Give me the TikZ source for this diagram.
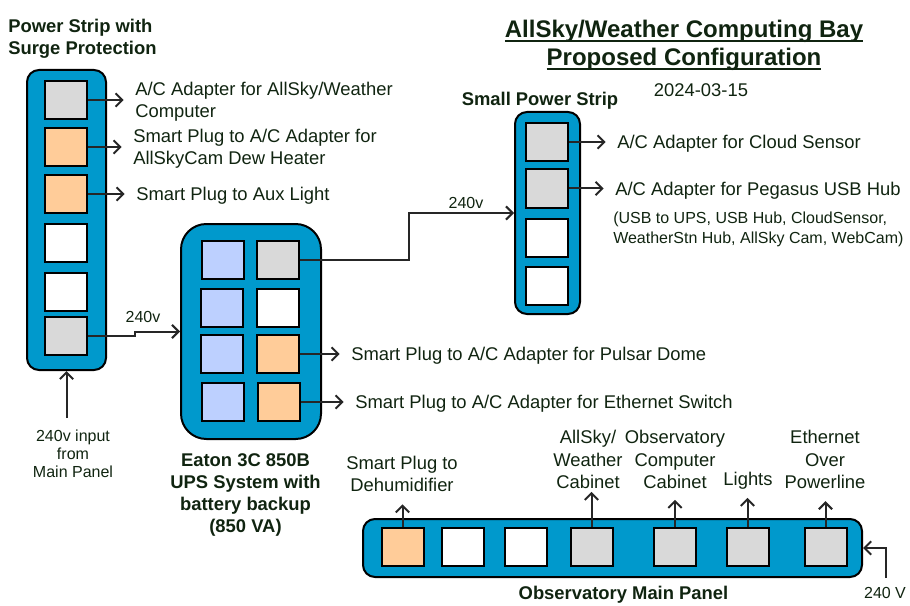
\documentclass[tikz,border=0pt]{standalone}
\usepackage{fontspec}
\setmainfont{Liberation Sans}
\usetikzlibrary{arrows.meta}

\definecolor{stripblue}{HTML}{0099CC}
\definecolor{plugblue}{HTML}{BDD0FF}
\definecolor{plugorange}{HTML}{FFCC99}
\definecolor{pluggrey}{HTML}{D9D9D9}
\definecolor{inkgreen}{HTML}{102410}
\definecolor{wire}{HTML}{262626}

% thick underline for the title lines
\newcommand{\titleline}[1]{\setbox0\hbox{#1}\rlap{\rule[-3.4pt]{\wd0}{1.5pt}}\box0}

\begin{document}
\begin{tikzpicture}[x=0.75pt, y=-0.75pt,
    strip/.style={draw=black, line width=1.5pt, fill=stripblue, rounded corners=9pt},
    plug/.style={draw=black, line width=1.5pt, minimum width=31.5pt, minimum height=28.5pt, inner sep=0pt},
    lbl/.style={text=inkgreen, font=\fontsize{13.8}{17}\selectfont, inner sep=0pt},
    hdr/.style={text=inkgreen, font=\fontsize{13.8}{16.5}\selectfont\bfseries, inner sep=0pt},
    note/.style={text=inkgreen, font=\fontsize{12}{13.5}\selectfont, inner sep=0pt},
    feed/.style={draw=wire, line width=1.5pt, -{Straight Barb[length=5pt, width=10pt]}},
    tolabel/.style={feed, shorten >=8.5pt},
    uplabel/.style={feed, shorten >=6pt}]
    \useasboundingbox (0,0) rectangle (910,606);

    % title
    \node[text=inkgreen, font=\fontsize{18}{21}\selectfont\bfseries, align=center, inner sep=0pt] (title) at (684,45)
        {\titleline{AllSky/Weather Computing Bay}\\\titleline{Proposed Configuration}};
    \node[lbl] (date) at (701,90) {2024-03-15};

    % power strip with surge protection
    \node[strip, minimum width=59.25pt, minimum height=225pt] (ps) at (66.5,220) {};
    \node[plug, fill=pluggrey] (ps1) at (66,100) {};
    \node[plug, fill=plugorange] (ps2) at (66,147) {};
    \node[plug, fill=plugorange] (ps3) at (66,194) {};
    \node[plug, fill=white] (ps4) at (66,242.5) {};
    \node[plug, fill=white] (ps5) at (66,291.5) {};
    \node[plug, fill=pluggrey] (ps6) at (66,336) {};
    \node[hdr, anchor=west, align=left] (pstitle) at (8,38.5) {Power Strip with\\Surge Protection};
    \node[lbl, anchor=west, align=left, text depth=0pt] (pl1) at (135,100) {A/C Adapter for AllSky/Weather\\Computer};
    \node[lbl, anchor=west, align=left, text depth=0pt] (pl2) at (133,147) {Smart Plug to A/C Adapter for\\AllSkyCam Dew Heater};
    \node[lbl, anchor=west, text depth=0pt] (pl3) at (136,194) {Smart Plug to Aux Light};
    \node[note, align=center] (psin) at (73,454) {240v input\\from\\Main Panel};
    \coordinate (psinbase) at (66.5,418);

    \draw[tolabel] (ps1.east) -- (pl1.west);
    \draw[tolabel] (ps2.east) -- (pl2.west);
    \draw[tolabel] (ps3.east) -- (pl3.west);
    \draw[feed] (psinbase) -- (ps.south);

    % UPS
    \node[strip, rounded corners=19pt, minimum width=105pt, minimum height=161.25pt] (ups) at (251,331.5) {};
    \node[plug, fill=plugblue] (u11) at (222.5,260) {};
    \node[plug, fill=plugblue] (u21) at (222,308) {};
    \node[plug, fill=plugblue] (u31) at (222,354) {};
    \node[plug, fill=plugblue] (u41) at (223,402) {};
    \node[plug, fill=pluggrey] (u12) at (277.5,260) {};
    \node[plug, fill=white] (u22) at (277.5,308) {};
    \node[plug, fill=plugorange] (u32) at (277.5,354) {};
    \node[plug, fill=plugorange] (u42) at (278.5,402) {};
    \node[hdr, align=center] (upstitle) at (245.5,495) {Eaton 3C 850B\\UPS System with\\battery backup\\(850 VA)};
    \node[lbl, anchor=west, text depth=0pt] (ul1) at (351,354) {Smart Plug to A/C Adapter for Pulsar Dome};
    \node[lbl, anchor=west, text depth=0pt] (ul2) at (355,402) {Smart Plug to A/C Adapter for Ethernet Switch};

    \draw[tolabel] (u32.east) -- (ul1.west);
    \draw[tolabel] (u42.east) -- (ul2.west);
    \draw[feed] (ps6.east) -- ++(47,0) |- (ups.west);
    \node[note] (v1) at (143,317) {240v};

    % small power strip
    \node[strip, minimum width=48.75pt, minimum height=151.5pt] (sps) at (547.5,213) {};
    \node[plug, fill=pluggrey] (sp1) at (547,142) {};
    \node[plug, fill=pluggrey] (sp2) at (547,188.5) {};
    \node[plug, fill=white] (sp3) at (547,237.5) {};
    \node[plug, fill=white] (sp4) at (547,285.5) {};
    \node[hdr] (spstitle) at (540,100.5) {Small Power Strip};
    \node[lbl, anchor=west, text depth=0pt] (sl1) at (617,142) {A/C Adapter for Cloud Sensor};
    \node[lbl, anchor=west, text depth=0pt] (sl2) at (615,188.5) {A/C Adapter for Pegasus USB Hub};
    \node[note, anchor=west, align=left, font=\fontsize{12}{15}\selectfont] (slnote) at (613,229.5)
        {(USB to UPS, USB Hub, CloudSensor,\\WeatherStn Hub, AllSky Cam, WebCam)};

    \draw[tolabel] (sp1.east) -- (sl1.west);
    \draw[tolabel] (sp2.east) -- (sl2.west);
    \draw[feed] (u12.east) -- ++(109,0) |- (sps.west);
    \node[note] (v2) at (466,203) {240v};

    % observatory main panel
    \node[strip, minimum width=374.25pt, minimum height=43.5pt] (mp) at (612.5,548) {};
    \node[plug, fill=plugorange] (m1) at (402.5,546.5) {};
    \node[plug, fill=white] (m2) at (462.5,546.5) {};
    \node[plug, fill=white] (m3) at (526,546.5) {};
    \node[plug, fill=pluggrey] (m4) at (591.5,546.5) {};
    \node[plug, fill=pluggrey] (m5) at (675,546.5) {};
    \node[plug, fill=pluggrey] (m6) at (747.5,546.5) {};
    \node[plug, fill=pluggrey] (m7) at (825.5,546.5) {};
    \node[hdr] (mptitle) at (623.5,594.5) {Observatory Main Panel};
    \node[lbl, align=center] (ml1) at (402,474) {Smart Plug to\\Dehumidifier};
    \node[lbl, align=center] (ml4) at (588,459.5) {AllSky/\\Weather\\Cabinet};
    \node[lbl, align=center] (ml5) at (675,459.5) {Observatory\\Computer\\Cabinet};
    \node[lbl] (ml6) at (748,481) {Lights};
    \node[lbl, align=center] (ml7) at (825,459.5) {Ethernet\\Over\\Powerline};
    \node[note] (mpin) at (885,593) {240 V};
    \coordinate (mpinbase) at (886,578);

    \draw[uplabel, shorten >=9pt] (m1.north) -- (m1.north |- ml1.south);
    \draw[uplabel, shorten >=2pt] (m4.north) -- (m4.north |- ml4.south);
    \draw[uplabel, shorten >=8pt] (m5.north) -- (m5.north |- ml5.south);
    \draw[uplabel] (m6.north) -- (m6.north |- ml6.south);
    \draw[uplabel, shorten >=9pt] (m7.north) -- (m7.north |- ml7.south);
    \draw[feed] (mpinbase) |- (mp.east);
\end{tikzpicture}
\end{document}
